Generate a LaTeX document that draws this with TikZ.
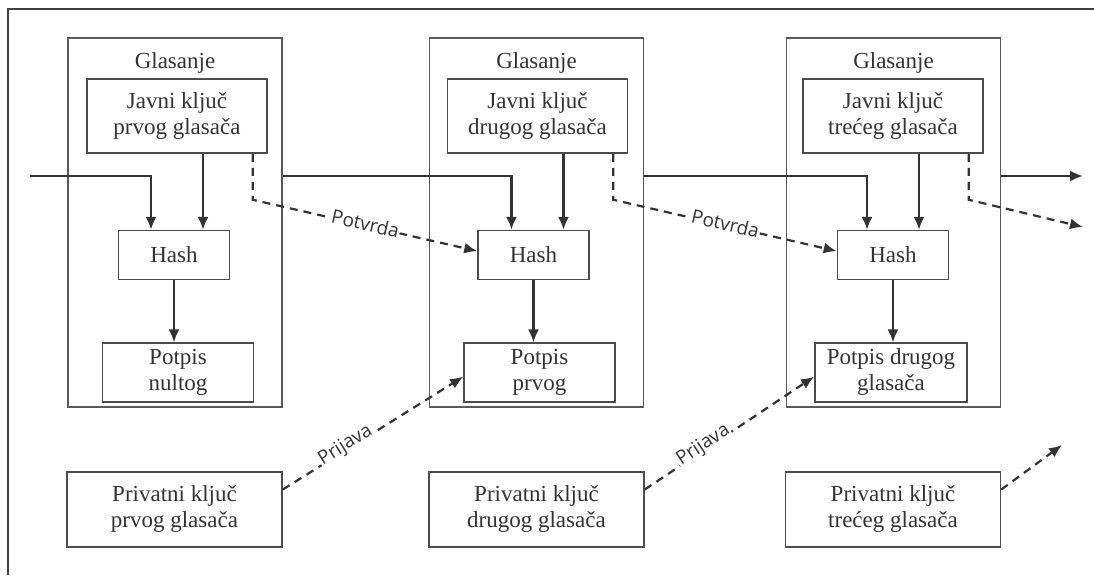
\documentclass[tikz,border=0pt]{standalone}
\usepackage{fontspec}
\setmainfont{Liberation Serif}
\newfontfamily\tagfont{Open Sans}
\usetikzlibrary{arrows.meta,positioning}

\begin{document}
\begin{tikzpicture}[
    x=0.5pt, y=-0.5pt,
    >={Latex[length=6.5pt,width=5.5pt]},
    font=\fontsize{11.5}{13}\selectfont,
    text=black!80,
    frame/.style={
		rectangle,
		draw=black!65,
		line width=0.8pt,
		minimum width=107pt,
		minimum height=184.5pt
	},
    block/.style={
		rectangle,
		draw=black!70,
		line width=0.8pt,
		text centered,
		inner sep=0pt,
		fill=white
	},
	flow/.style={
		draw=black!80,
		line width=1.1pt
	},
	hint/.style={
		flow,
		dash pattern=on 4pt off 3pt
	},
	tag/.style={
		font=\tagfont\fontsize{9.5}{11}\selectfont,
		fill=white,
		inner sep=0.5pt,
		sloped
	}
  ]
  \useasboundingbox (0,0) rectangle (1094,575);
  % outer frame
  \draw [draw=black!75, line width=1pt] (1094,9) -- (8,9) -- (8,575);

  % We start by placing the voting blocks
  \node [frame] (glas1) at (175,222.5) {};
  \node [frame] (glas2) at (536.5,222.5) {};
  \node [frame] (glas3) at (893.5,222.5) {};

  \node [below=4pt of glas1.north] (title1) {Glasanje};
  \node [below=4pt of glas2.north] (title2) {Glasanje};
  \node [below=4pt of glas3.north] (title3) {Glasanje};

  \node [block, minimum width=90pt, minimum height=37pt] (javni1) at (177,116)
 {%
 \begin{tabular}{c}
  Javni ključ\\
  prvog glasača
 \end{tabular}
 };
  \node [block, minimum width=90pt, minimum height=37pt] (javni2) at (537.5,116)
 {%
 \begin{tabular}{c}
  Javni ključ\\
  drugog glasača
 \end{tabular}
 };
  \node [block, minimum width=90pt, minimum height=37pt] (javni3) at (893,116)
 {%
 \begin{tabular}{c}
  Javni ključ\\
  trećeg glasača
 \end{tabular}
 };

  \node [block, minimum width=55.5pt, minimum height=24.5pt, below=38pt of javni1, xshift=-1.5pt] (hash1) {Hash};
  \node [block, minimum width=55.5pt, minimum height=24.5pt, below=38pt of javni2, xshift=-2pt] (hash2) {Hash};
  \node [block, minimum width=55.5pt, minimum height=24.5pt, below=38pt of javni3] (hash3) {Hash};

  \node [block, minimum width=75.5pt, minimum height=29.5pt, below=31pt of hash1, xshift=2pt] (potpis1)
 {%
 \begin{tabular}{c}
  Potpis\\
  nultog
 \end{tabular}
 };
  \node [block, minimum width=75.5pt, minimum height=29.5pt, below=31pt of hash2, xshift=3pt] (potpis2)
 {%
 \begin{tabular}{c}
  Potpis\\
  prvog
 \end{tabular}
 };
  \node [block, minimum width=75.5pt, minimum height=29.5pt, below=31pt of hash3, xshift=-1pt] (potpis3)
 {%
 \begin{tabular}{c}
  Potpis drugog\\
  glasača
 \end{tabular}
 };

  % private keys at the bottom
  \node [block, minimum width=107.5pt, minimum height=37.5pt] (priv1) at (174.5,509.5)
 {%
 \begin{tabular}{c}
  Privatni ključ\\
  prvog glasača
 \end{tabular}
 };
  \node [block, minimum width=107.5pt, minimum height=37.5pt] (priv2) at (536.5,509.5)
 {%
 \begin{tabular}{c}
  Privatni ključ\\
  drugog glasača
 \end{tabular}
 };
  \node [block, minimum width=107.5pt, minimum height=37.5pt] (priv3) at (893,509.5)
 {%
 \begin{tabular}{c}
  Privatni ključ\\
  trećeg glasača
 \end{tabular}
 };

  \coordinate (in) at (30,176);
  \coordinate (out) at (1083,176);
  \coordinate (out2) at (1083,227);
  \coordinate (out3) at (1062,445);

  % chain of votes
  \draw [flow,->] (in) -| ([xshift=-13pt]javni1.south |- hash1.north);
  \draw [flow,->] (glas1.east |- in) -| ([xshift=-13pt]javni2.south |- hash2.north);
  \draw [flow,->] (glas2.east |- in) -| ([xshift=-13pt]javni3.south |- hash3.north);
  \draw [flow,->] (glas3.east |- in) -- (out);

  \draw [flow,->] ([xshift=13pt]javni1.south) -- ([xshift=13pt]javni1.south |- hash1.north);
  \draw [flow,->] ([xshift=13pt]javni2.south) -- ([xshift=13pt]javni2.south |- hash2.north);
  \draw [flow,->] ([xshift=13pt]javni3.south) -- ([xshift=13pt]javni3.south |- hash3.north);

  \draw [flow,->] (hash1) -- (hash1 |- potpis1.north);
  \draw [flow,->] (hash2) -- (hash2 |- potpis2.north);
  \draw [flow,->] (hash3) -- (hash3 |- potpis3.north);

  % confirmations and logins
  \draw [hint,->] ([xshift=-7.5pt]javni1.south east) -- ++(0,46) -- node [tag, pos=0.5, yshift=1pt] {Potvrda} ([yshift=2pt]hash2.west);
  \draw [hint,->] ([xshift=-7.5pt]javni2.south east) -- ++(0,46) -- node [tag, pos=0.5, yshift=1pt] {Potvrda} ([yshift=2pt]hash3.west);
  \draw [hint,->] ([xshift=-7.5pt]javni3.south east) -- ++(0,46) -- (out2);

  \draw [hint,->] ([yshift=10pt]priv1.east) -- node [tag, pos=0.36, yshift=2pt] {Prijava} ([yshift=-2pt]potpis2.west);
  \draw [hint,->] ([yshift=10pt]priv2.east) -- node [tag, pos=0.36, yshift=2pt] {Prijava} ([yshift=-2pt]potpis3.west);
  \draw [hint,->] ([yshift=10pt]priv3.east) -- (out3);

\end{tikzpicture}
\end{document}
